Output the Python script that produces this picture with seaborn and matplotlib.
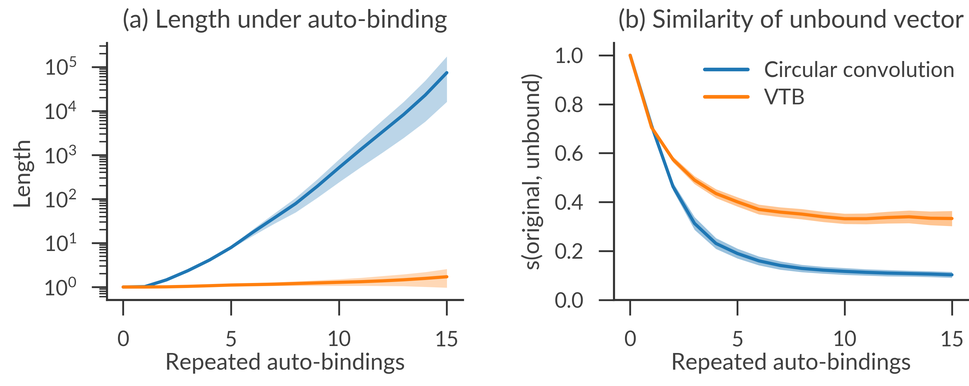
import io

import matplotlib
matplotlib.use("Agg")
import matplotlib.pyplot as plt
import numpy as np
import pandas as pd
import seaborn as sns
from matplotlib.ticker import LogLocator, LogFormatterSciNotation, NullFormatter
from PIL import Image

# Number of repeated auto-bindings
steps = list(range(16))
methods = ["Circular convolution", "VTB"]

# (a) vector length under repeated auto-binding: mean and shaded interval
len_conv_mean = [1.0, 1.02, 1.45, 2.35, 4.1, 7.9, 17.4, 37.0, 79.0, 195.0,
                 513.0, 1320.0, 3310.0, 8300.0, 22900.0, 74100.0]
len_conv_low = [1.0, 1.02, 1.42, 2.3, 4.0, 7.4, 14.5, 27.5, 50.0, 107.0,
                240.0, 525.0, 1120.0, 2450.0, 5750.0, 16200.0]
len_conv_high = [1.0, 1.02, 1.48, 2.4, 4.2, 8.5, 20.4, 46.8, 107.0, 282.0,
                 794.0, 2190.0, 6030.0, 16200.0, 49000.0, 174000.0]

len_vtb_mean = [1.0, 1.0, 1.01, 1.035, 1.07, 1.11, 1.135, 1.16, 1.2, 1.24,
                1.28, 1.32, 1.38, 1.46, 1.57, 1.71]
len_vtb_low = [1.0, 1.0, 1.0, 1.01, 1.02, 1.035, 1.045, 1.06, 1.07, 1.07,
               1.07, 1.07, 1.06, 1.05, 1.01, 0.97]
len_vtb_high = [1.0, 1.0, 1.03, 1.07, 1.12, 1.17, 1.23, 1.29, 1.35, 1.43,
                1.51, 1.62, 1.78, 1.95, 2.19, 2.57]

# (b) similarity between the original and the unbound vector
sim_conv_mean = [1.0, 0.712, 0.463, 0.313, 0.231, 0.19, 0.16, 0.141, 0.129,
                 0.122, 0.117, 0.113, 0.110, 0.108, 0.106, 0.103]
sim_conv_err = [0.0, 0.01, 0.016, 0.026, 0.022, 0.02, 0.018, 0.017, 0.015,
                0.014, 0.014, 0.013, 0.013, 0.012, 0.012, 0.012]

sim_vtb_mean = [1.0, 0.705, 0.574, 0.49, 0.435, 0.401, 0.37, 0.359, 0.351,
                0.34, 0.332, 0.332, 0.337, 0.34, 0.334, 0.333]
sim_vtb_err = [0.0, 0.01, 0.012, 0.016, 0.018, 0.019, 0.02, 0.02, 0.021,
               0.021, 0.021, 0.022, 0.024, 0.026, 0.028, 0.031]

colors = ["#1f77b4", "#ff7f0e"]
ink = "#404040"

sns.set_theme(style="ticks")
plt.rcParams.update({
    "font.family": ["Lato", "DejaVu Sans"],
    "font.weight": "normal",
    "mathtext.fontset": "custom",
    "mathtext.rm": "Lato",
    "mathtext.it": "Lato",
    "mathtext.bf": "Lato",
    "mathtext.sf": "Lato",
    "text.color": ink,
    "axes.labelcolor": ink,
    "xtick.color": "#333333",
    "ytick.color": "#333333",
    "xtick.labelcolor": ink,
    "ytick.labelcolor": ink,
    "axes.edgecolor": "#333333",
})

length_df = pd.DataFrame({
    "step": steps * 2,
    "value": len_conv_mean + len_vtb_mean,
    "method": [methods[0]] * 16 + [methods[1]] * 16,
})
sim_df = pd.DataFrame({
    "step": steps * 2,
    "value": sim_conv_mean + sim_vtb_mean,
    "method": [methods[0]] * 16 + [methods[1]] * 16,
})

fig = plt.figure(figsize=(9.69, 3.86), dpi=100)
ax1 = fig.add_axes([0.1104, 0.2228, 0.3674, 0.6658])
ax2 = fig.add_axes([0.6337, 0.2228, 0.3653, 0.6658])

# (a) length on a log scale
ax1.set_yscale("log")
ax1.fill_between(steps, len_conv_low, len_conv_high, color=colors[0],
                 alpha=0.3, linewidth=0)
ax1.fill_between(steps, len_vtb_low, len_vtb_high, color=colors[1],
                 alpha=0.3, linewidth=0)
sns.lineplot(data=length_df, x="step", y="value", hue="method",
             hue_order=methods, palette=colors, linewidth=2.3,
             legend=False, ax=ax1)
ax1.set_xlim(-0.75, 15.75)
ax1.set_ylim(0.507, 3.5e5)
ax1.set_xticks([0, 5, 10, 15])
ax1.yaxis.set_major_locator(LogLocator(base=10, numticks=20))
ax1.yaxis.set_major_formatter(LogFormatterSciNotation(base=10))
ax1.yaxis.set_minor_locator(LogLocator(base=10, subs=np.arange(2, 10),
                                       numticks=20))
ax1.yaxis.set_minor_formatter(NullFormatter())
ax1.set_title("(a) Length under auto-binding", fontsize=18, pad=11)
ax1.set_xlabel("Repeated auto-bindings", fontsize=16.5)
ax1.set_ylabel("Length", fontsize=16.5)

# (b) similarity of the unbound vector
sim_conv_arr = np.array(sim_conv_mean)
sim_vtb_arr = np.array(sim_vtb_mean)
ax2.fill_between(steps, sim_conv_arr - np.array(sim_conv_err),
                 sim_conv_arr + np.array(sim_conv_err), color=colors[0],
                 alpha=0.45, linewidth=0)
ax2.fill_between(steps, sim_vtb_arr - np.array(sim_vtb_err),
                 sim_vtb_arr + np.array(sim_vtb_err), color=colors[1],
                 alpha=0.45, linewidth=0)
sns.lineplot(data=sim_df, x="step", y="value", hue="method",
             hue_order=methods, palette=colors, linewidth=2.3, ax=ax2)
ax2.set_xlim(-0.75, 15.75)
ax2.set_ylim(0.0, 1.05)
ax2.set_xticks([0, 5, 10, 15])
ax2.set_yticks([0.0, 0.2, 0.4, 0.6, 0.8, 1.0])
ax2.set_title("(b) Similarity of unbound vector", fontsize=18, pad=11)
ax2.set_xlabel("Repeated auto-bindings", fontsize=16.5)
ax2.set_ylabel("s(original, unbound)", fontsize=16.5)
leg = ax2.legend(frameon=False, fontsize=15.5, loc="upper left",
                 bbox_to_anchor=(0.256, 0.93), borderpad=0,
                 borderaxespad=0, handlelength=2.0, handletextpad=0.75,
                 labelspacing=0.35)
for line in leg.get_lines():
    line.set_linewidth(2.6)

for ax in (ax1, ax2):
    sns.despine(ax=ax)
    for side in ("left", "bottom"):
        ax.spines[side].set_linewidth(1.5)
    ax.tick_params(axis="both", which="major", length=11, width=1.3,
                   labelsize=15)
    ax.tick_params(axis="x", which="major", pad=11)
    ax.tick_params(axis="y", which="major", pad=11)
    ax.tick_params(axis="y", which="minor", length=5.5, width=1.0)
    ax.xaxis.labelpad = 2
    ax.yaxis.labelpad = 8

fig.savefig("out.png", dpi=100)

# Supersample the figure so thin strokes keep their weight
buf = io.BytesIO()
fig.savefig(buf, dpi=300, format="png")
buf.seek(0)
hi_res = Image.open(buf).convert("RGB")
hi_res.resize((969, 386), Image.LANCZOS).save("out.png")
